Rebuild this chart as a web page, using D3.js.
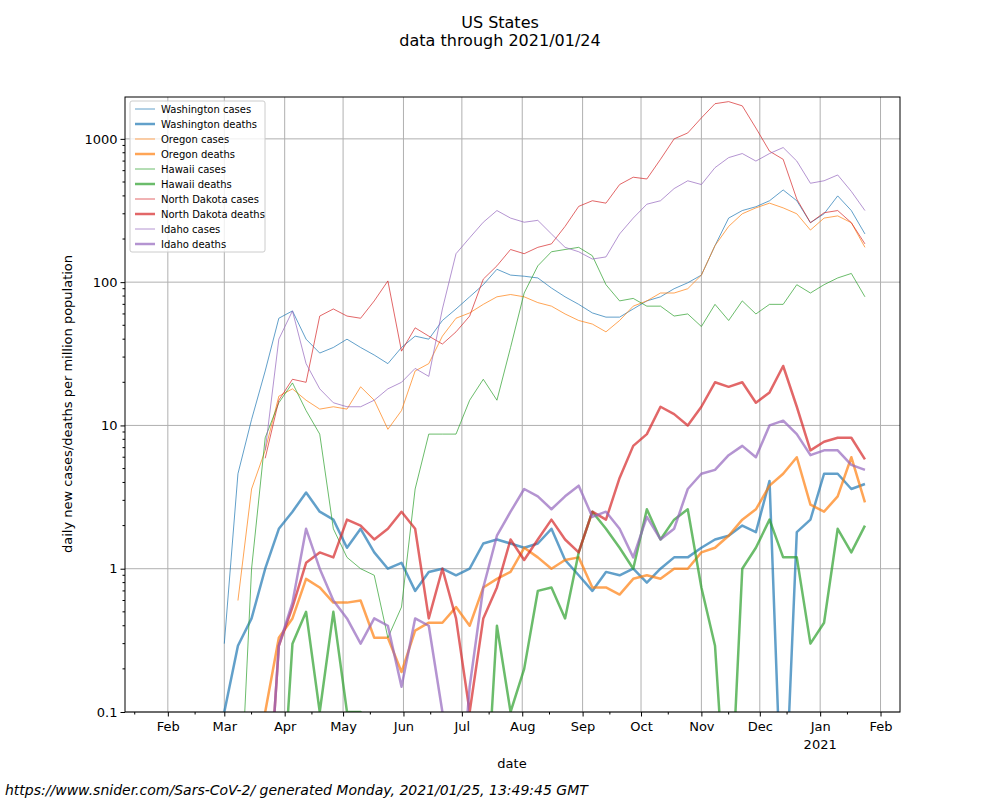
<!DOCTYPE html>
<html><head><meta charset="utf-8">
<script src="https://cdn.jsdelivr.net/npm/d3@7"></script>
<style>body{margin:0;background:#fff;font-family:"DejaVu Sans",sans-serif}</style>
</head><body><svg id="c" width="1000" height="800"></svg>
<script>
// weekly samples starting 2020-03-01
const startDate = "2020-03-01";
const nWeeks = 48;
const Z = null, L = 0.01; // L: below plot floor
const waCases = [0.3,4.6,11,24,56,63,40,32,35,40,35,31,27,35,42,40,54,65,79,96,123,112,110,107,91,79,70,61,57,57,65,74,79,90,99,112,180,280,316,336,370,440,370,260,300,400,316,217];
const waDeaths = [0.1,0.29,0.45,1,1.9,2.5,3.4,2.5,2.2,1.4,1.9,1.3,1,1.1,0.7,0.95,1,0.9,1,1.5,1.6,1.5,1.4,1.5,1.9,1.15,0.9,0.7,0.95,0.9,1,0.8,1,1.2,1.2,1.4,1.6,1.7,2,1.8,4.1,L,1.8,2.2,4.6,4.6,3.6,3.9];
const orCases = [Z,0.6,3.6,6.7,16,18,15,13,13.5,13,18.6,15,9.4,12.7,24,27,42,56,61,70,79,82,79,72,68,60,54,51,45,54,68,74,84,84,90,112,180,245,300,330,356,330,300,231,280,290,260,175];
const orDeaths = [Z,Z,L,0.1,0.33,0.45,0.85,0.74,0.58,0.58,0.6,0.33,0.33,0.19,0.37,0.42,0.42,0.54,0.4,0.74,0.85,0.95,1.4,1.2,1,1.15,1.2,0.74,0.74,0.66,0.85,0.9,0.85,1,1,1.3,1.4,1.7,2.2,2.6,3.8,4.6,6,2.8,2.5,3.2,6,2.9];
const hiCases = [Z,L,1,8.2,14.4,19.8,12.7,8.7,1.9,1.2,1,0.9,0.33,0.54,3.6,8.7,8.7,8.7,15,21,15,35,84,130,163,169,175,153,96,74,77,68,68,58,60,49,70,54,74,60,70,70,96,84,96,107,115,79];
const hiDeaths = [Z,Z,Z,Z,L,0.3,0.5,0.1,0.5,0.1,0.1,L,L,L,L,L,L,L,L,L,0.4,0.1,0.2,0.7,0.74,0.45,1.3,2.5,1.9,1.4,1,2.6,1.6,2.2,2.6,0.74,0.29,L,1,1.4,2.2,1.2,1.2,0.3,0.42,1.9,1.3,2];
const ndCases = [Z,Z,Z,5.9,15,21,20,58,65,58,56,74,102,33,48,42,37,45,58,105,130,169,158,175,185,245,338,370,356,480,540,525,720,1000,1100,1400,1760,1820,1700,1190,820,720,380,260,305,316,260,185];
const ndDeaths = [Z,Z,Z,L,0.29,0.54,1.1,1.3,1.2,2.2,2,1.6,1.9,2.5,1.9,0.45,1,0.45,0.1,0.45,0.74,1.6,1.15,1.6,2.2,1.6,1.3,2.5,2.2,4.3,7.2,8.7,13.5,12,10,13.5,20,18.6,20,14.4,17,26,13.5,6.7,7.7,8.2,8.2,5.8];
const idCases = [Z,Z,Z,6.7,40,63,27,18,14.4,13.5,13.5,15,18,20,25,22,65,158,204,262,316,280,262,270,217,175,163,145,150,217,280,350,370,450,510,480,630,740,790,700,790,870,700,490,510,560,430,316];
const idDeaths = [Z,Z,Z,L,0.29,0.58,1.9,1,0.6,0.45,0.3,0.45,0.4,0.15,0.45,0.4,0.1,L,0.15,0.74,1.7,2.5,3.6,3.2,2.6,3.2,3.8,2.3,2.5,1.9,1.2,2.3,1.6,1.9,3.6,4.6,4.9,6.2,7.2,6,10,10.8,8.7,6.2,6.7,6.7,5.3,4.9];
const seriesNames = ["Washington cases","Washington deaths","Oregon cases","Oregon deaths","Hawaii cases","Hawaii deaths","North Dakota cases","North Dakota deaths","Idaho cases","Idaho deaths"];
const seriesValues = [waCases,waDeaths,orCases,orDeaths,hiCases,hiDeaths,ndCases,ndDeaths,idCases,idDeaths];
const colors = ["#1f77b4","#ff7f0e","#2ca02c","#d62728","#9467bd"];
const yTicks = [0.1,1,10,100,1000];
const monthLabels = ["Feb","Mar","Apr","May","Jun","Jul","Aug","Sep","Oct","Nov","Dec","Jan","Feb"];

const svg = d3.select("#c");
const M = {l:125, r:900, t:97, b:712};
const parse = d3.timeParse("%Y-%m-%d");
const d0 = parse(startDate);
const dates = d3.range(nWeeks).map(i => d3.timeDay.offset(d0, 7*i));
const x = d3.scaleTime().domain([parse("2020-01-10"), parse("2021-02-11")]).range([M.l, M.r]);
const y = d3.scaleLog().domain([0.1, 1960]).range([M.b, M.t]);

svg.append("defs").append("clipPath").attr("id","clip").append("rect")
  .attr("x",M.l).attr("y",M.t).attr("width",M.r-M.l).attr("height",M.b-M.t);

// grid
const monthTicks = d3.range(13).map(i => new Date(2020, 1+i, 1));
svg.append("g").selectAll("line").data(monthTicks).join("line")
  .attr("x1",d=>x(d)).attr("x2",d=>x(d)).attr("y1",M.t).attr("y2",M.b)
  .attr("stroke","#b0b0b0").attr("stroke-width",1);
svg.append("g").selectAll("line").data(yTicks).join("line")
  .attr("x1",M.l).attr("x2",M.r).attr("y1",d=>y(d)).attr("y2",d=>y(d))
  .attr("stroke","#b0b0b0").attr("stroke-width",1);

// lines
const g = svg.append("g").attr("clip-path","url(#clip)");
seriesValues.forEach((vals,k) => {
  const isDeath = k%2===1;
  const line = d3.line().defined(d=>d!==null).x((d,i)=>x(dates[i])).y(d=>y(d));
  g.append("path").datum(vals).attr("d",line).attr("fill","none")
    .attr("stroke",colors[Math.floor(k/2)]).attr("stroke-opacity",0.7)
    .attr("stroke-width",isDeath?2.5:1).attr("stroke-linejoin","round");
});

// frame
svg.append("rect").attr("x",M.l).attr("y",M.t).attr("width",M.r-M.l).attr("height",M.b-M.t)
  .attr("fill","none").attr("stroke","#000").attr("stroke-width",1);

// axes
const xAx = svg.append("g").attr("transform",`translate(0,${M.b})`)
  .call(d3.axisBottom(x).tickValues(monthTicks).tickSize(4.5).tickFormat((d,i)=>monthLabels[i]));
xAx.select(".domain").remove();
xAx.selectAll("text").attr("font-size",13).attr("font-family","DejaVu Sans").attr("dy","0.9em");
const minorX = d3.range(13).map(i => new Date(2020, 0+i, 15)).filter(d=>x(d)>M.l && x(d)<M.r);
svg.append("g").selectAll("line").data(minorX).join("line")
  .attr("x1",d=>x(d)).attr("x2",d=>x(d)).attr("y1",M.b).attr("y2",M.b+2.5).attr("stroke","#000");
svg.append("text").attr("x",x(new Date(2021,0,1))).attr("y",749).attr("text-anchor","middle")
  .attr("font-size",13).text("2021");

const yAx = svg.append("g").attr("transform",`translate(${M.l},0)`)
  .call(d3.axisLeft(y).tickValues(yTicks).tickSize(4.5).tickFormat(d3.format("")));
yAx.select(".domain").remove();
yAx.selectAll("text").attr("font-size",13).attr("font-family","DejaVu Sans");
const minorY = [];
[0.1,1,10,100,1000].forEach(b=>{for(let m=2;m<10;m++){const v=b*m; if(v<1960) minorY.push(v);}});
svg.append("g").selectAll("line").data(minorY).join("line")
  .attr("x1",M.l-2.5).attr("x2",M.l).attr("y1",d=>y(d)).attr("y2",d=>y(d)).attr("stroke","#000");

// labels
svg.append("text").attr("x",500).attr("y",28).attr("text-anchor","middle").attr("font-size",16).text("US States");
svg.append("text").attr("x",500).attr("y",46).attr("text-anchor","middle").attr("font-size",16).text("data through 2021/01/24");
svg.append("text").attr("x",512).attr("y",768).attr("text-anchor","middle").attr("font-size",13).text("date");
svg.append("text").attr("transform","translate(72,404) rotate(-90)").attr("text-anchor","middle").attr("font-size",13)
  .text("daily new cases/deaths per million population");
svg.append("text").attr("x",5).attr("y",795).attr("font-size",14).attr("font-style","italic")
  .text("https://www.snider.com/Sars-CoV-2/ generated Monday, 2021/01/25, 13:49:45 GMT");

// legend
const lg = svg.append("g");
lg.append("rect").attr("x",130).attr("y",101).attr("width",135).attr("height",151).attr("rx",2)
  .attr("fill","#fff").attr("fill-opacity",0.8).attr("stroke","#ccc");
seriesNames.forEach((n,k)=>{
  const yy = 109 + k*15;
  lg.append("line").attr("x1",135).attr("x2",155).attr("y1",yy).attr("y2",yy)
    .attr("stroke",colors[Math.floor(k/2)]).attr("stroke-opacity",0.7).attr("stroke-width",k%2?2.5:1);
  lg.append("text").attr("x",161).attr("y",yy+3.5).attr("font-size",10).text(n);
});
</script></body></html>
